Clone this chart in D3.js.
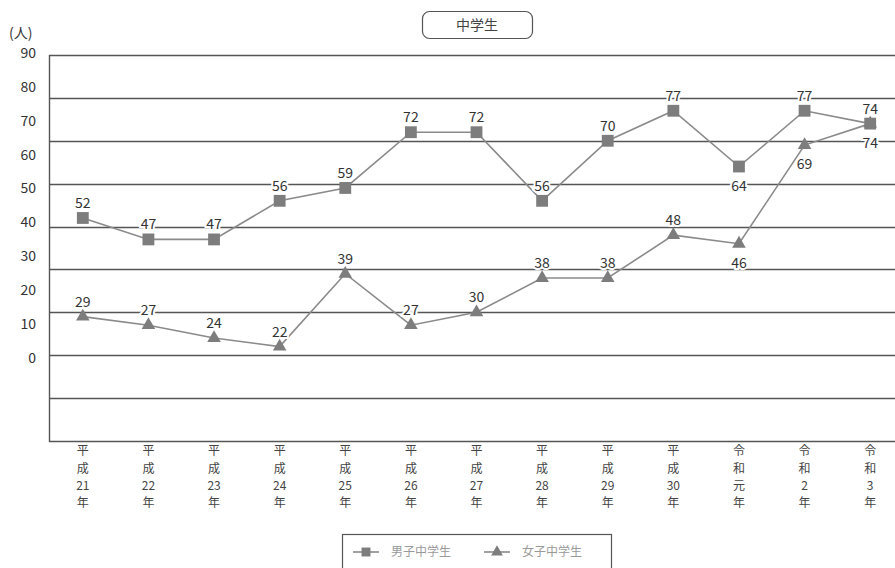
<!DOCTYPE html>
<html>
<head>
<meta charset="utf-8">
<script src="https://cdn.jsdelivr.net/npm/d3@7"></script>
<style>
  html, body { margin: 0; padding: 0; background: #fff; }
  svg { display: block; font-family: "Noto Sans CJK JP", "Noto Sans", sans-serif; }
</style>
</head>
<body>
<svg id="chart" width="895" height="568"></svg>
<script>
// Years (vertical labels, one glyph group per line)
const categories = [
  ["平", "成", "21", "年"], ["平", "成", "22", "年"], ["平", "成", "23", "年"],
  ["平", "成", "24", "年"], ["平", "成", "25", "年"], ["平", "成", "26", "年"],
  ["平", "成", "27", "年"], ["平", "成", "28", "年"], ["平", "成", "29", "年"],
  ["平", "成", "30", "年"], ["令", "和", "元", "年"], ["令", "和", "2", "年"],
  ["令", "和", "3", "年"]
];
const boys  = [52, 47, 47, 56, 59, 72, 72, 56, 70, 77, 64, 77, 74];
const girls = [29, 27, 24, 22, 39, 27, 30, 38, 38, 48, 46, 69, 74];
// where each value label sits relative to its marker
const boysLabelSide  = ["up", "up", "up", "up", "up", "up", "up", "up", "up", "up", "down", "up", "up"];
const girlsLabelSide = ["up", "up", "up", "up", "up", "up", "up", "up", "up", "up", "down", "down", "down"];
const tickValues = [0, 10, 20, 30, 40, 50, 60, 70, 80, 90];
const seriesNames = ["男子中学生", "女子中学生"];
const title = "中学生";
const unit = "(人)";

const svg = d3.select("#chart");

const x = d3.scalePoint().domain(d3.range(categories.length)).range([50, 903]).padding(0.5);
const y = d3.scaleLinear().domain([0, 90]).range([441, 55]);
// the printed value column on the left runs on its own spacing
const yLabel = d3.scaleLinear().domain([0, 90]).range([358, 53]);

const gridColor = "#555";
const seriesColor = "#8a8a8a";
const markerColor = "#7d7d7d";

// gridlines
svg.append("g").selectAll("line").data(tickValues).join("line")
  .attr("x1", 49).attr("x2", 895)
  .attr("y1", d => Math.round(y(d)) + 0.5).attr("y2", d => Math.round(y(d)) + 0.5)
  .attr("stroke", gridColor).attr("stroke-width", 1.4);

// left frame line
svg.append("line")
  .attr("x1", 49.5).attr("x2", 49.5).attr("y1", y(90)).attr("y2", y(0) + 1)
  .attr("stroke", gridColor).attr("stroke-width", 1.4);

// value column
svg.append("g").selectAll("text").data(tickValues).join("text")
  .attr("x", 36).attr("y", d => yLabel(d))
  .attr("dy", "0.35em").attr("text-anchor", "end")
  .attr("font-size", 14).attr("fill", "#333")
  .text(d => d);

svg.append("text").attr("x", 9).attr("y", 38)
  .attr("font-size", 14).attr("fill", "#333").text(unit);

// title box
svg.append("rect").attr("x", 422.5).attr("y", 11.5).attr("width", 110).attr("height", 27)
  .attr("rx", 7).attr("fill", "#fff").attr("stroke", "#555").attr("stroke-width", 1.2);
svg.append("text").attr("x", 477).attr("y", 25).attr("dy", "0.35em")
  .attr("text-anchor", "middle").attr("font-size", 14).attr("fill", "#444").text(title);

// category labels, stacked vertically
const catG = svg.append("g").selectAll("g").data(categories).join("g")
  .attr("transform", (d, i) => `translate(${x(i)},0)`);
catG.selectAll("text").data(d => d).join("text")
  .attr("x", 0).attr("y", (d, j) => 451 + j * 17.4)
  .attr("dy", "0.35em").attr("text-anchor", "middle")
  .attr("font-size", 12).attr("fill", "#444")
  .text(d => d);

const line = d3.line().x((d, i) => x(i)).y(d => y(d));

function drawSeries(values, sides, symbolType, size) {
  const g = svg.append("g");
  g.append("path").datum(values).attr("d", line)
    .attr("fill", "none").attr("stroke", seriesColor).attr("stroke-width", 1.6);
  g.selectAll("path.m").data(values).join("path").attr("class", "m")
    .attr("transform", (d, i) => `translate(${x(i)},${y(d)})`)
    .attr("d", d3.symbol().type(symbolType).size(size))
    .attr("fill", markerColor);
  g.selectAll("text").data(values).join("text")
    .attr("x", (d, i) => x(i))
    .attr("y", (d, i) => y(d) + (sides[i] === "up" ? -10 : 24))
    .attr("text-anchor", "middle").attr("font-size", 14).attr("fill", "#333")
    .attr("stroke", "#fff").attr("stroke-width", 4).attr("paint-order", "stroke")
    .text(d => d);
}

drawSeries(girls, girlsLabelSide, d3.symbolTriangle, 80);
drawSeries(boys, boysLabelSide, d3.symbolSquare, 140);

// legend
const lg = svg.append("g");
lg.append("rect").attr("x", 342.5).attr("y", 534.5).attr("width", 269).attr("height", 45)
  .attr("fill", "#fff").attr("stroke", "#555").attr("stroke-width", 1.2);
const legendItems = [
  { name: seriesNames[0], sym: d3.symbolSquare, size: 80, x0: 353 },
  { name: seriesNames[1], sym: d3.symbolTriangle, size: 60, x0: 484 }
];
legendItems.forEach(it => {
  lg.append("line").attr("x1", it.x0).attr("x2", it.x0 + 26).attr("y1", 552).attr("y2", 552)
    .attr("stroke", seriesColor).attr("stroke-width", 1.6);
  lg.append("path").attr("transform", `translate(${it.x0 + 13},552)`)
    .attr("d", d3.symbol().type(it.sym).size(it.size)).attr("fill", markerColor);
  lg.append("text").attr("x", it.x0 + 38).attr("y", 552).attr("dy", "0.35em")
    .attr("font-size", 12).attr("fill", "#999").text(it.name);
});
</script>
</body>
</html>
